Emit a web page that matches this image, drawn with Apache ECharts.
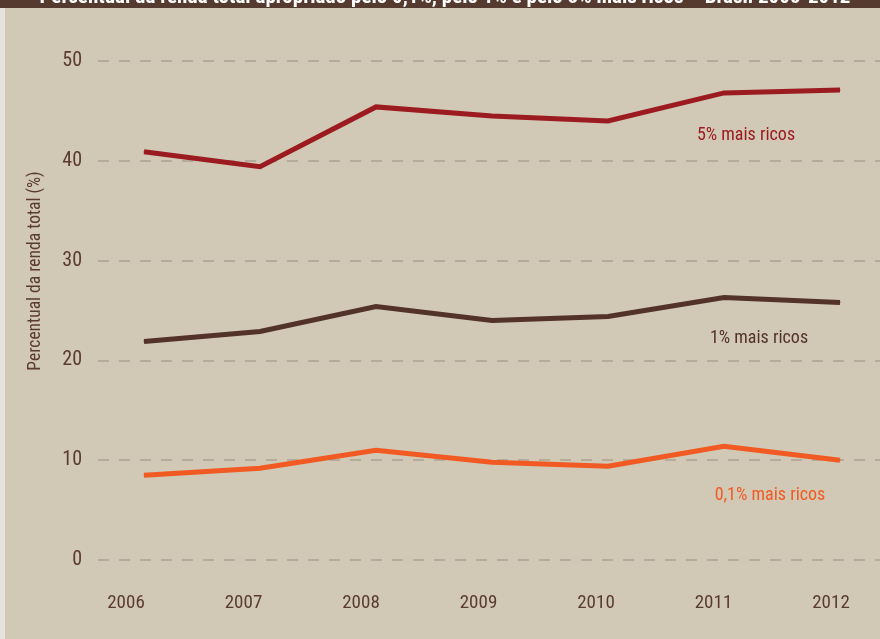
<!DOCTYPE html>
<html>
<head>
<meta charset="utf-8">
<script src="https://cdn.jsdelivr.net/npm/echarts@6/dist/echarts.min.js"></script>
<style>html,body{margin:0;padding:0;background:#d1c8b5;}#c{width:880px;height:639px;}</style>
</head>
<body>
<div id="c"></div>
<script>
const years = ['2006','2007','2008','2009','2010','2011','2012'];
const top5 = [40.9, 39.4, 45.4, 44.5, 44.0, 46.8, 47.1];
const top1 = [21.9, 22.9, 25.4, 24.0, 24.4, 26.3, 25.8];
const top01 = [8.5, 9.2, 11.0, 9.8, 9.4, 11.4, 10.0];
const yTicks = [0, 10, 20, 30, 40, 50];
const seriesNames = ['5% mais ricos', '1% mais ricos', '0,1% mais ricos'];
const titleText = 'Percentual da renda total apropriado pelo 0,1%, pelo 1% e pelo 5% mais ricos – Brasil 2006-2012';
const yName = 'Percentual da renda total (%)';

const FONT = '"Roboto Condensed", sans-serif';
const BROWN = '#5a3b30';
const colors = ['#9b1b20', '#533229', '#f15a22'];
const labelOffsets = [[22, 43], [35, 41], [46, 49]];
const datasets = [top5, top1, top01];

const chart = echarts.init(document.getElementById('c'));
const series = datasets.map((d, i) => ({
  name: seriesNames[i],
  type: 'line',
  xAxisIndex: 1,
  yAxisIndex: 1,
  data: d.map((v, j) => j === 5 ? {
    value: v,
    label: {
      show: true, formatter: seriesNames[i], position: 'inside',
      offset: labelOffsets[i], color: colors[i],
      fontFamily: FONT, fontSize: 18
    }
  } : v),
  symbol: 'circle',
  symbolSize: 1,
  showSymbol: true,
  lineStyle: { color: colors[i], width: 5, cap: 'butt', join: 'miter' },
  itemStyle: { color: colors[i] },
  silent: true,
  animation: false
}));

chart.setOption({
  backgroundColor: '#d1c8b5',
  animation: false,
  grid: [
    { left: 98, right: 0, top: 61, bottom: 79 },
    { left: 144, right: 40, top: 61, bottom: 79 },
    { left: 126, right: 49, top: 61, bottom: 79 }
  ],
  xAxis: [
    { gridIndex: 0, type: 'category', data: years, show: false },
    { gridIndex: 1, type: 'category', data: years, boundaryGap: false, show: false },
    { gridIndex: 2, type: 'category', data: years, boundaryGap: false,
      axisLine: { show: false }, axisTick: { show: false },
      axisLabel: { margin: 34, color: BROWN, fontFamily: FONT, fontSize: 19 } }
  ],
  yAxis: [
    { gridIndex: 0, type: 'value', min: yTicks[0], max: yTicks[yTicks.length - 1], interval: 10,
      axisLine: { show: false }, axisTick: { show: false },
      axisLabel: { margin: 16, color: BROWN, fontFamily: FONT, fontSize: 20 },
      splitLine: { show: true, lineStyle: { color: '#b4ab9b', width: 2, type: [11, 10] } } },
    { gridIndex: 1, type: 'value', min: 0, max: 50, interval: 10, show: false, splitLine: { show: false } },
    { gridIndex: 2, type: 'value', min: 0, max: 50, show: false, splitLine: { show: false } }
  ],
  graphic: [
    { type: 'rect', left: 0, top: 8, shape: { x: 0, y: 0, width: 5, height: 631 }, style: { fill: '#e6e2dc' }, silent: true },
    { type: 'rect', shape: { x: 0, y: 0, width: 880, height: 8 }, style: { fill: '#553a2f' }, silent: true, z: 10 },
    { type: 'text', x: 445, y: 8, z: 11, silent: true,
      style: { text: titleText, fill: '#ffffff', font: 'bold 21px ' + FONT, textAlign: 'center', textVerticalAlign: 'bottom' } },
    { type: 'text', x: 36, y: 271, rotation: Math.PI / 2, silent: true,
      style: { text: yName, fill: BROWN, font: '17.5px ' + FONT, textAlign: 'center', textVerticalAlign: 'middle' } }
  ],
  series: series
});
</script>
</body>
</html>
